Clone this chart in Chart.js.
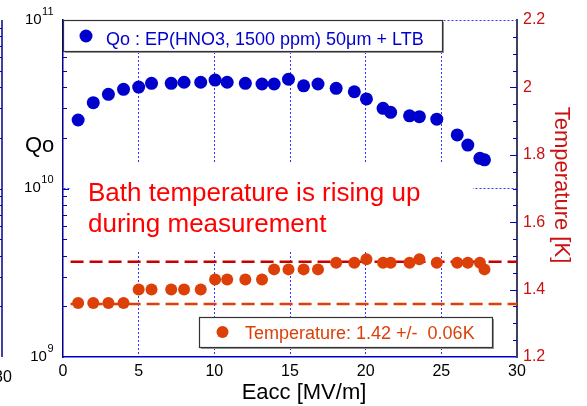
<!DOCTYPE html>
<html><head><meta charset="utf-8">
<script src="https://cdn.jsdelivr.net/npm/chart.js@4/dist/chart.umd.min.js"></script>
<style>html,body{margin:0;padding:0;background:#fff}#wrap{width:587px;height:406px}</style>
</head><body><div id="wrap"><canvas id="c" width="587" height="406"></canvas></div>
<script>
// ---- data ----
const eacc = [1.0, 2.0, 3.0, 4.0, 5.0, 5.85, 7.15, 8.0, 9.1, 10.05, 10.85, 12.05, 13.15, 13.95, 14.9, 15.9, 16.85, 18.05, 19.25, 20.05, 21.15, 21.65, 22.9, 23.55, 24.7, 26.05, 26.75, 27.55, 27.85];
const qoValues = [2.55e10, 3.23e10, 3.62e10, 3.88e10, 4.0e10, 4.21e10, 4.21e10, 4.27e10, 4.27e10, 4.40e10, 4.27e10, 4.21e10, 4.17e10, 4.17e10, 4.45e10, 4.07e10, 4.17e10, 3.93e10, 3.75e10, 3.40e10, 2.99e10, 2.83e10, 2.70e10, 2.67e10, 2.58e10, 2.08e10, 1.81e10, 1.51e10, 1.48e10];
const tempValues = [1.36, 1.36, 1.36, 1.36, 1.40, 1.40, 1.40, 1.40, 1.40, 1.43, 1.43, 1.43, 1.43, 1.46, 1.46, 1.46, 1.46, 1.48, 1.48, 1.49, 1.48, 1.48, 1.48, 1.49, 1.48, 1.48, 1.48, 1.48, 1.46];
const tempBandLevels = [1.357, 1.483];
const bandRange = [0.5, 30];
const xRange = [0, 30];
const qoRange = [1e9, 1e11];
const tempRange = [1.2, 2.2];
const qoLabel = 'Qo : EP(HNO3, 1500 ppm) 50\u03BCm + LTB';
const tempLabel = 'Temperature: 1.42 +/-  0.06K';
const noteLines = ['Bath temperature is rising up', 'during measurement'];
const xTitle = 'Eacc [MV/m]';
const yTitle = 'Qo';
const y2Title = 'Temperature [K]';
const neighbourLabel = '30';

const FONT = 'Arial, "Liberation Sans", sans-serif';
const GRID = '#3333ff';

function isDecade(v){ const l = Math.log10(v); return Math.abs(l - Math.round(l)) < 1e-9; }

const decor = {
  id: 'decor',
  beforeDatasetsDraw(chart) {
    const {ctx, chartArea: ca, scales} = chart;
    const ys = scales.y, y2 = scales.y2;
    ctx.save();
    // inward ticks, left log axis
    ctx.strokeStyle = '#0000cc'; ctx.lineWidth = 1;
    for (let e = Math.log10(ys.min); e < Math.log10(ys.max); e++) {
      for (let m = 1; m <= 9; m++) {
        const v = m * Math.pow(10, e);
        if (v <= ys.min || v >= ys.max) continue;
        const py = Math.round(ys.getPixelForValue(v)) + 0.5;
        ctx.beginPath(); ctx.moveTo(ca.left, py); ctx.lineTo(ca.left + (m === 1 ? 6 : 4), py); ctx.stroke();
      }
    }
    // inward ticks, right axis
    const n = Math.round((y2.max - y2.min) / 0.05);
    for (let k = 1; k < n; k++) {
      const v = y2.min + k * 0.05;
      const py = Math.round(y2.getPixelForValue(v)) + 0.5;
      ctx.beginPath(); ctx.moveTo(ca.right, py); ctx.lineTo(ca.right - (k % 4 === 0 ? 7 : 4), py); ctx.stroke();
    }
    // white box behind the note
    ctx.fillStyle = '#fff';
    ctx.fillRect(ca.left + 7, 164, 410 - 7 + 0, 86);
    ctx.fillStyle = '#ff0000';
    ctx.font = '26px ' + FONT;
    ctx.textBaseline = 'alphabetic'; ctx.textAlign = 'left';
    ctx.fillText(noteLines[0], ca.left + 25, 201);
    ctx.fillText(noteLines[1], ca.left + 25, 232);

    // legend boxes
    const box = (x, y, w, h) => {
      ctx.fillStyle = '#999';
      ctx.fillRect(x + 2, y + 2, w, h);
      ctx.fillStyle = '#fff';
      ctx.fillRect(x, y, w, h);
      ctx.strokeStyle = '#333'; ctx.lineWidth = 1.2;
      ctx.strokeRect(x + 0.5, y + 0.5, w, h);
    };
    const ds = chart.data.datasets;
    box(ca.left, ca.top, 379, 31);
    ctx.fillStyle = ds[0].backgroundColor;
    ctx.beginPath(); ctx.arc(86, 36, 6.5, 0, Math.PI * 2); ctx.fill();
    ctx.font = '18px ' + FONT;
    ctx.fillText(ds[0].label, 106, 45);

    box(199, 317, 293, 30);
    ctx.fillStyle = ds[1].backgroundColor;
    ctx.beginPath(); ctx.arc(222.5, 332, 6, 0, Math.PI * 2); ctx.fill();
    ctx.fillText(ds[1].label, 245, 339);
    ctx.restore();
  },
  afterDraw(chart) {
    const {ctx, chartArea: ca, scales} = chart;
    const ys = scales.y;
    ctx.save();
    // log tick labels with superscripts
    ctx.fillStyle = '#000'; ctx.textAlign = 'right'; ctx.textBaseline = 'alphabetic';
    for (let e = Math.log10(ys.min); e <= Math.log10(ys.max) + 1e-9; e++) {
      const py = ys.getPixelForValue(Math.pow(10, e));
      const base = py + 3.5;
      ctx.font = '11px ' + FONT;
      const sup = String(Math.round(e));
      ctx.fillText(sup, 53.5, base - 9);
      const sw = ctx.measureText(sup).width;
      ctx.font = '15px ' + FONT;
      ctx.fillText('10', 53.5 - sw - 0.5, base);
    }
    // axis titles
    ctx.textAlign = 'left';
    ctx.font = '22px ' + FONT;
    ctx.fillText(yTitle, 25, 152);
    ctx.textAlign = 'center';
    ctx.fillText(xTitle, 304, 399);
    ctx.save();
    ctx.translate(555, 185);
    ctx.rotate(Math.PI / 2);
    ctx.fillStyle = '#cc1111';
    ctx.fillText(y2Title, 0, 0);
    ctx.restore();
    // neighbouring panel edge
    ctx.strokeStyle = '#00008b'; ctx.lineWidth = 1.5;
    ctx.beginPath(); ctx.moveTo(2, ca.top); ctx.lineTo(2, ca.bottom); ctx.stroke();
    ctx.lineWidth = 1; ctx.strokeStyle = '#0000cc';
    for (let e = Math.log10(ys.min); e < Math.log10(ys.max); e++) {
      for (let m = 1; m <= 9; m++) {
        const v = m * Math.pow(10, e);
        if (v <= ys.min) continue;
        const py = Math.round(ys.getPixelForValue(v)) + 0.5;
        ctx.beginPath(); ctx.moveTo(0, py); ctx.lineTo(2, py); ctx.stroke();
      }
    }
    ctx.fillStyle = '#000'; ctx.font = '16px ' + FONT; ctx.textAlign = 'center';
    ctx.fillText(neighbourLabel, 3, 382);
    ctx.restore();
  }
};

new Chart(document.getElementById('c'), {
  type: 'scatter',
  data: {
    datasets: [
      { label: qoLabel, data: eacc.map((x, i) => ({x, y: qoValues[i]})), yAxisID: 'y',
        backgroundColor: '#0000cc', borderColor: '#0000cc', borderWidth: 0, pointRadius: 6.5 },
      { label: tempLabel, data: eacc.map((x, i) => ({x, y: tempValues[i]})), yAxisID: 'y2',
        backgroundColor: '#dc4008', borderColor: '#dc4008', borderWidth: 0, pointRadius: 6 },
      { type: 'line', label: 'upper', data: bandRange.map(x => ({x, y: tempBandLevels[1]})), yAxisID: 'y2',
        borderColor: '#c80000', borderWidth: 2.5, borderDash: [13, 6], pointRadius: 0, fill: false },
      { type: 'line', label: 'lower', data: bandRange.map(x => ({x, y: tempBandLevels[0]})), yAxisID: 'y2',
        borderColor: '#dc4008', borderWidth: 2.5, borderDash: [13, 6], pointRadius: 0, fill: false }
    ]
  },
  options: {
    responsive: false, animation: false, events: [],
    layout: { padding: { top: 20, left: 0, right: 0, bottom: 0 } },
    plugins: { legend: { display: false }, tooltip: { enabled: false } },
    scales: {
      x: {
        type: 'linear', min: xRange[0], max: xRange[1],
        afterFit(s) { s.height = 49; },
        ticks: { stepSize: 5, color: '#000', font: { family: FONT, size: 16 }, padding: 5, maxRotation: 0 },
        grid: { color: c => (c.tick && c.tick.value > xRange[0] && c.tick.value < xRange[1]) ? GRID : 'transparent', drawTicks: false, lineWidth: 1 },
        border: { display: true, color: '#0000cc', width: 1.5, dash: [2, 2] }
      },
      y: {
        type: 'logarithmic', position: 'left', min: qoRange[0], max: qoRange[1],
        afterFit(s) { s.width = 63; },
        ticks: { display: false },
        grid: { color: c => (c.tick && c.tick.value > qoRange[0] && isDecade(c.tick.value)) ? GRID : 'transparent', drawTicks: false, lineWidth: 1 },
        border: { display: true, color: '#00008b', width: 1.5, dash: [2, 2] }
      },
      y2: {
        type: 'linear', position: 'right', min: tempRange[0], max: tempRange[1],
        afterFit(s) { s.width = 70; },
        ticks: { stepSize: 0.2, color: '#cc1111', font: { family: FONT, size: 16 }, padding: 6,
                 callback: v => String(+v.toFixed(1)) },
        grid: { drawOnChartArea: false, drawTicks: false },
        border: { display: true, color: '#404066', width: 2 }
      }
    }
  },
  plugins: [decor]
});
</script>
</body></html>
